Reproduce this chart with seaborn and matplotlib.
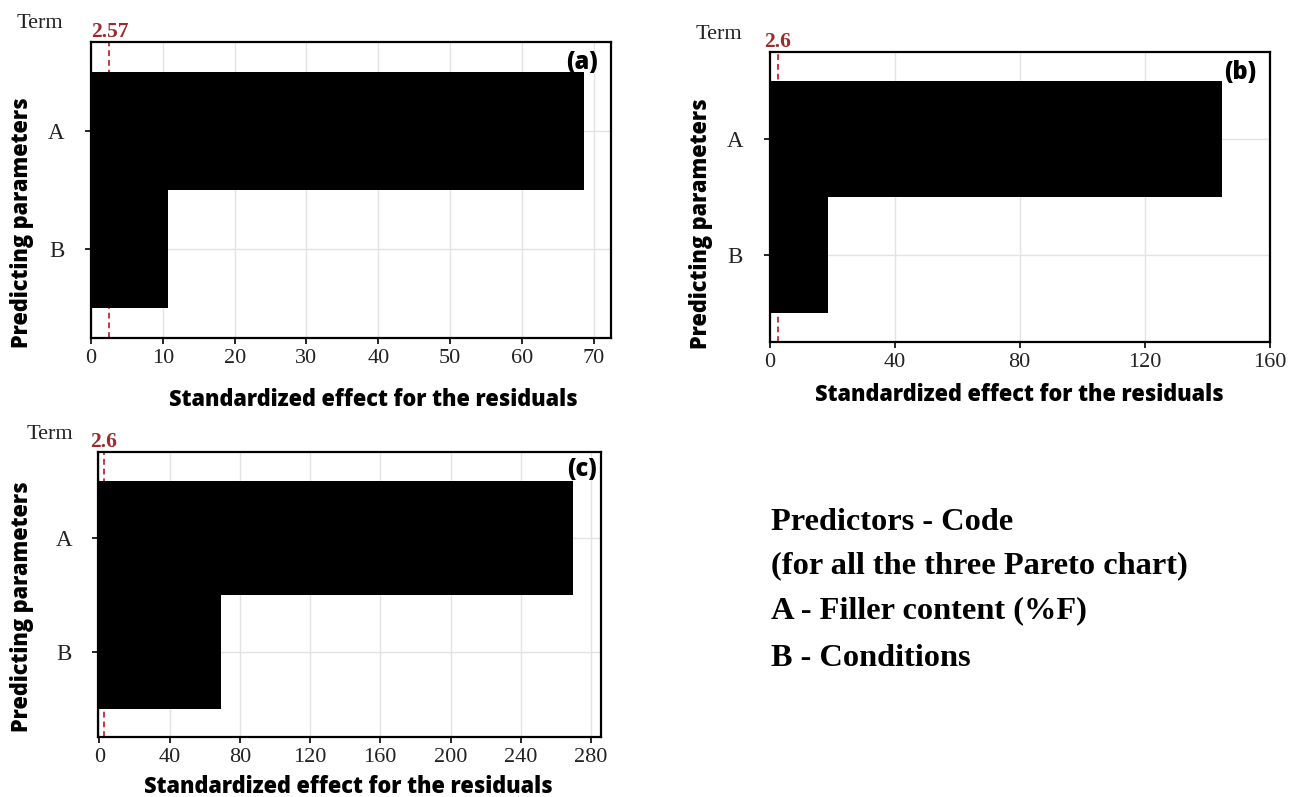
import matplotlib
matplotlib.use("Agg")
import matplotlib.pyplot as plt
import seaborn as sns
import pandas as pd

# ---- data ----
terms = ["A", "B"]
effects_a = [68.6, 10.7]
effects_b = [144.8, 18.8]
effects_c = [270.0, 69.3]
ref_a = 2.57
ref_b = 2.6
ref_c = 2.6
ref_labels = ["2.57", "2.6", "2.6"]
panel_tags = ["(a)", "(b)", "(c)"]
xticks_a = [0, 10, 20, 30, 40, 50, 60, 70]
xticks_b = [0, 40, 80, 120, 160]
xticks_c = [0, 40, 80, 120, 160, 200, 240, 280]
legend_lines = ["Predictors - Code",
                "(for all the three Pareto chart)",
                "A - Filler content (%F)",
                "B - Conditions"]

sns.set_theme(style="white")
plt.rcParams["font.family"] = ["Liberation Serif", "DejaVu Serif"]

fig = plt.figure(figsize=(12.9, 7.97), dpi=100)

SANS = "Open Sans"
RED_TXT = "#9e2a2b"
RED_LINE = "#c8373d"

panels = [
    dict(vals=effects_a, ref=ref_a, lab=ref_labels[0], tag=panel_tags[0], ticks=xticks_a,
         rect=[91/1290, 1-338/797, 520/1290, 296/797], xlim=(0, 72.4),
         ylab=(-0.133, 0.388), xlab=(0.542, -0.209), term=(-0.098, 1.064), reflab_y=1.034,
         tagpos=(0.944, 0.932)),
    dict(vals=effects_b, ref=ref_b, lab=ref_labels[1], tag=panel_tags[1], ticks=xticks_b,
         rect=[769.5/1290, 1-341.7/797, 500.2/1290, 290/797], xlim=(0, 160),
         ylab=(-0.137, 0.406), xlab=(0.5, -0.184), term=(-0.101, 1.058), reflab_y=1.033,
         tagpos=(0.94, 0.927)),
    dict(vals=effects_c, ref=ref_c, lab=ref_labels[2], tag=panel_tags[2], ticks=xticks_c,
         rect=[98.2/1290, 1-737/797, 503.1/1290, 285.3/797], xlim=(-0.7, 285.9),
         ylab=(-0.151, 0.456), xlab=(0.498, -0.175), term=(-0.096, 1.059), reflab_y=1.034,
         tagpos=(0.961, 0.936)),
]

for p in panels:
    ax = fig.add_axes(p["rect"])
    df = pd.DataFrame({"Term": terms, "Effect": p["vals"]})
    sns.barplot(data=df, x="Effect", y="Term", orient="h", color="black",
                saturation=1, width=1.0, linewidth=0, ax=ax, zorder=3)
    ax.axvline(p["ref"], color=RED_LINE, ls=(0, (3, 2)), lw=1.4, zorder=2)
    ax.set_xlim(*p["xlim"])
    ax.set_ylim(1.75, -0.757)
    ax.set_xticks(p["ticks"])
    ax.set_axisbelow(True)
    ax.grid(True, color="#e3e3e3", lw=1.0)
    for s in ax.spines.values():
        s.set_visible(True)
        s.set_color("black")
        s.set_linewidth(1.6)
    ax.tick_params(axis="x", bottom=True, length=4, width=1.2, pad=4,
                   labelsize=16, colors="black")
    ax.tick_params(axis="y", left=True, length=4, width=1.2, pad=15,
                   labelsize=16.5, colors="black")
    for t in ax.get_xticklabels() + ax.get_yticklabels():
        t.set_color("#222222")
    ax.set_ylabel("Predicting parameters", fontfamily=SANS, fontweight=800,
                  fontsize=15.7, color="black", va="center")
    ax.yaxis.set_label_coords(*p["ylab"])
    ax.set_xlabel("Standardized effect for the residuals", fontfamily=SANS,
                  fontweight=800, fontsize=15.7, color="black", va="center")
    ax.xaxis.set_label_coords(*p["xlab"])
    ax.text(p["term"][0], p["term"][1], "Term", transform=ax.transAxes,
            ha="center", va="center", fontsize=16, color="#222222")
    ax.text(p["ref"], p["reflab_y"], p["lab"], transform=ax.get_xaxis_transform(),
            ha="center", va="center", fontsize=15.5, fontweight="bold", color=RED_TXT)
    ax.text(p["tagpos"][0], p["tagpos"][1], p["tag"], transform=ax.transAxes,
            ha="center", va="center", fontsize=17, fontfamily=SANS,
            fontweight=800, color="black", zorder=5)

ys = [522, 566, 611, 658]
for line, y in zip(legend_lines, ys):
    fig.text(771/1290, 1 - y/797, line, ha="left", va="center",
             fontsize=23.3, fontweight="bold", color="black")

fig.savefig("out.png", dpi=100)
